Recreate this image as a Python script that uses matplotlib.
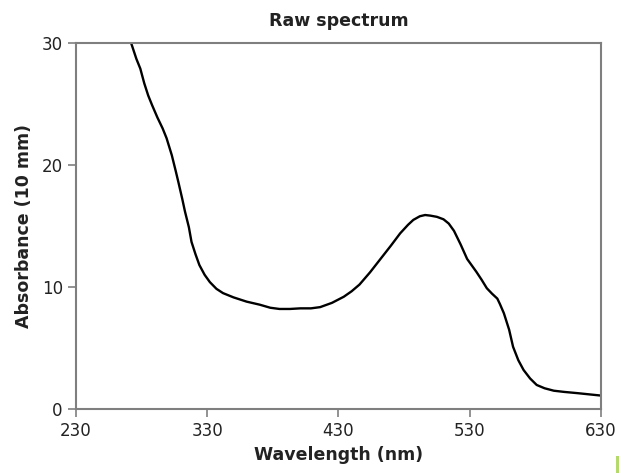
import matplotlib.pyplot as plt
from matplotlib.patches import Rectangle

# spectrum
wavelength = [272, 276, 279, 282, 285, 288, 292, 296, 299, 303, 306, 308, 311, 313, 316, 318, 321,
              324, 328, 332, 337, 342, 350, 360, 370, 378, 385, 393, 401, 409, 416, 425, 434, 440,
              446, 454, 462, 470, 477, 483, 487, 492, 496, 500, 505, 510, 514, 518, 523, 528, 532,
              535, 539, 543, 547, 551, 553, 556, 560, 563, 567, 571, 576, 581, 587, 594, 602, 612,
              621, 630]
absorbance = [30.0, 28.7, 27.9, 26.7, 25.7, 24.9, 23.9, 23.0, 22.2, 20.8, 19.5, 18.6, 17.2, 16.2,
              14.9, 13.7, 12.7, 11.8, 11.0, 10.4, 9.85, 9.5, 9.15, 8.8, 8.55, 8.3, 8.2, 8.2, 8.25,
              8.25, 8.35, 8.7, 9.2, 9.65, 10.2, 11.2, 12.3, 13.4, 14.4, 15.1, 15.5, 15.8, 15.9, 15.85,
              15.75, 15.55, 15.2, 14.6, 13.5, 12.3, 11.7, 11.25, 10.6, 9.9, 9.45, 9.05, 8.6, 7.85,
              6.5, 5.1, 4.0, 3.2, 2.5, 1.97, 1.7, 1.5, 1.4, 1.3, 1.2, 1.1]

x_ticks = [230, 330, 430, 530, 630]
y_ticks = [0, 10, 20, 30]

plt.rcParams['font.family'] = ['DejaVu Sans']

fig = plt.figure(figsize=(6.21, 4.73), dpi=100)
ax = fig.add_axes([76 / 621, 1 - 409 / 473, 525 / 621, 366 / 473])

ax.plot(wavelength, absorbance, color='black', lw=1.7, solid_joinstyle='round')

ax.set_xlim(230, 630)
ax.set_ylim(0, 30)
ax.set_xticks(x_ticks)
ax.set_yticks(y_ticks)

grey = '#7f7f7f'
for s in ax.spines.values():
    s.set_color(grey)
    s.set_linewidth(1.5)
ax.tick_params(colors=grey, labelcolor='#222222', labelsize=12, length=6, width=1.2)

txt = dict(fontsize=12.5, fontweight='bold', color='#222222')
ax.set_title('Raw spectrum', pad=12, **txt)
ax.set_xlabel('Wavelength (nm)', labelpad=4, **txt)
ax.set_ylabel('Absorbance (10 mm)', labelpad=6, **txt)

# small green marker at the bottom right corner
fig.add_artist(Rectangle((616 / 621, 0), 3 / 621, 17 / 473, transform=fig.transFigure,
                         color='#b5d96b', lw=0))

fig.savefig('out.png', dpi=100)
